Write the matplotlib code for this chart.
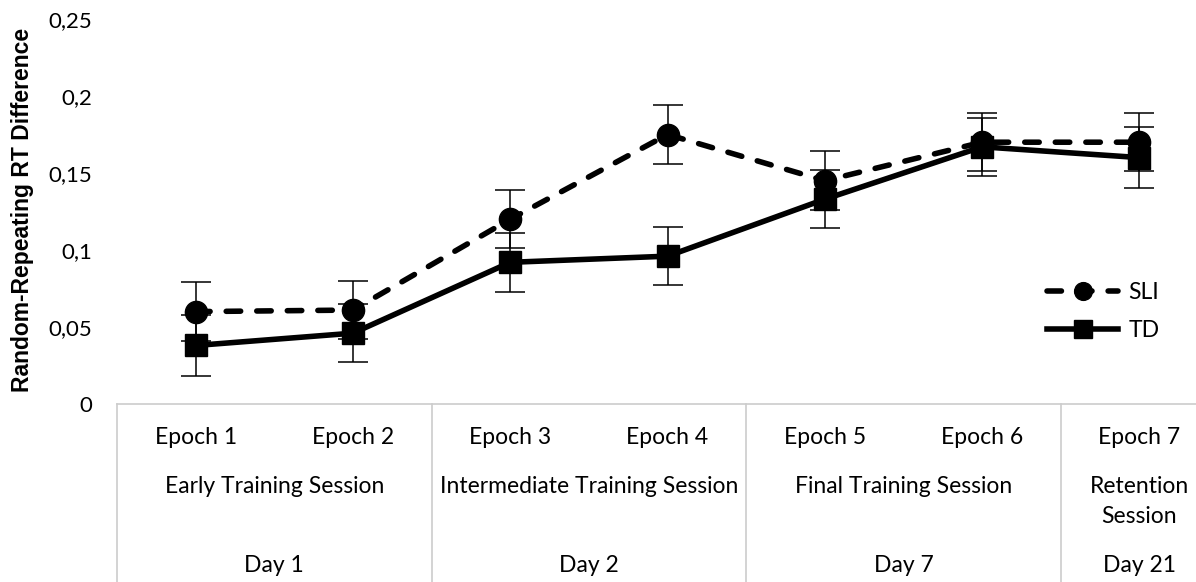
import matplotlib.pyplot as plt
from matplotlib.transforms import blended_transform_factory

# mean RT difference (random - repeating) per epoch, with error bars
epochs = ["Epoch 1", "Epoch 2", "Epoch 3", "Epoch 4", "Epoch 5", "Epoch 6", "Epoch 7"]
sli = [0.060, 0.061, 0.120, 0.175, 0.145, 0.170, 0.170]
sli_err = [0.019, 0.019, 0.019, 0.019, 0.019, 0.019, 0.019]
td = [0.038, 0.046, 0.092, 0.096, 0.133, 0.167, 0.160]
td_err = [0.020, 0.019, 0.019, 0.019, 0.019, 0.019, 0.020]

sessions = ["Early Training Session", "Intermediate Training Session",
            "Final Training Session", "Retention\nSession"]
days = ["Day 1", "Day 2", "Day 7", "Day 21"]
group_start = [0, 2, 4, 6]
group_end = [1, 3, 5, 6]

yticks = [0, 0.05, 0.1, 0.15, 0.2, 0.25]
ytick_labels = ["0", "0,05", "0,1", "0,15", "0,2", "0,25"]

W, H = 1196, 582
fig = plt.figure(figsize=(W / 100, H / 100), dpi=100)

# plot area spans 7 category bins; the last one runs past the right edge
left_px, bin_px = 117, 157.3
top_px, zero_px = 19, 404
ax = fig.add_axes([left_px / W, 1 - zero_px / H,
                   7 * bin_px / W, (zero_px - top_px) / H])

x = list(range(len(epochs)))

ax.errorbar(x, sli, yerr=sli_err, fmt="none", ecolor="black",
            elinewidth=1.1, capsize=11, capthick=1.1, zorder=4)
ax.errorbar(x, td, yerr=td_err, fmt="none", ecolor="black",
            elinewidth=1.1, capsize=11, capthick=1.1, zorder=4)

ax.plot(x, sli, color="black", lw=4, dashes=(2.6, 2.9),
        dash_capstyle="round", marker="o", ms=16, label="SLI", zorder=3)
ax.plot(x, td, color="black", lw=4, marker="s", ms=16,
        label="TD", zorder=3)

ax.set_xlim(-0.5, 6.5)
ax.set_ylim(0, 0.25)
ax.set_xticks([])
ax.set_yticks(yticks)
ax.set_yticklabels(ytick_labels, fontsize=16, family="Lato")
ax.tick_params(axis="y", length=0, pad=18)
for s in ax.spines.values():
    s.set_visible(False)

fig.text(23 / W, 1 - 210 / H, "Random-Repeating RT Difference",
         rotation=90, ha="center", va="center", fontsize=16.5,
         family="Liberation Sans", fontweight="bold")

ax.legend(loc="center left", bbox_to_anchor=(1047 / W, 1 - 311.5 / H),
          bbox_transform=fig.transFigure, frameon=False, borderpad=0,
          borderaxespad=0, handlelength=3.1, handletextpad=0.45,
          labelspacing=0.7, markerscale=0.8,
          prop={"family": "Lato", "size": 16.5})

# category table below the plot
tr = blended_transform_factory(ax.transData, fig.transFigure)
grid_color = "#cccccc"
y_top = 1 - zero_px / H
ax.plot([-0.5, 6.5], [y_top, y_top], color=grid_color, lw=1.2,
        transform=tr, clip_on=False)
for b in [-0.5, 1.5, 3.5, 5.5]:
    ax.plot([b, b], [y_top, 0], color=grid_color, lw=1.2,
            transform=tr, clip_on=False)

font = {"family": "Lato", "fontsize": 16.5}
for i, e in enumerate(epochs):
    ax.text(i, 1 - 437 / H, e, ha="center", va="center", transform=tr, **font)
for s, a, b in zip(sessions, group_start, group_end):
    ax.text((a + b) / 2, 1 - 476 / H, s, ha="center", va="top",
            linespacing=1.55, transform=tr, **font)
for d, a, b in zip(days, group_start, group_end):
    ax.text((a + b) / 2, 1 - 566 / H, d, ha="center", va="center",
            transform=tr, **font)

fig.savefig("out.png", dpi=100)
